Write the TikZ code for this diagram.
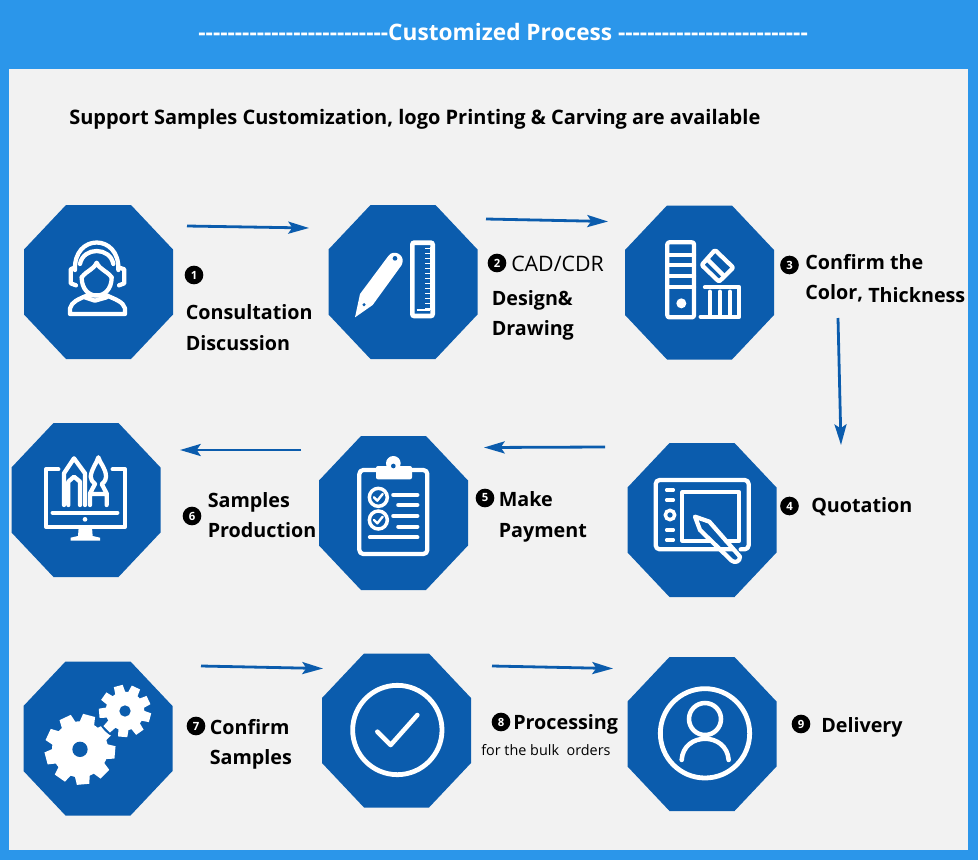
\documentclass[tikz,border=0pt]{standalone}
\usepackage{fontspec}
\usetikzlibrary{arrows.meta}
\newfontfamily\labfont{Open Sans}
\definecolor{frameblue}{HTML}{2B96EA}
\definecolor{panelgrey}{HTML}{F2F2F2}
\definecolor{octblue}{HTML}{0B5CAD}
\tikzset{
  octabox/.style={rectangle,minimum width=111.75pt,minimum height=116pt,inner sep=0pt,outer sep=0pt,draw=none},
  num/.style={circle,fill=black,text=white,minimum size=14pt,inner sep=0pt,font=\labfont\bfseries\fontsize{8.5}{8.5}\selectfont},
  lab/.style={anchor=base west,inner sep=0pt,text=black,font=\labfont\bfseries\fontsize{14.8}{14.8}\selectfont},
  reglab/.style={anchor=base west,inner sep=0pt,text=black,font=\labfont\fontsize{16}{16}\selectfont},
  flow/.style={draw=octblue,line width=2.1pt,-{Stealth[length=15.5pt,width=9pt,inset=3pt]}},
  zz/.style 2 args={shift={(#1,#2)},x=.25pt,y=-.25pt},
  ic/.style={draw=white,line width=3.2pt,line cap=round,line join=round},
}
\newcommand{\octagon}[3]{%
  \fill[octblue,shift={(#2,#3)}] (-74.5,-32.5) -- (-32.5,-77) -- (32.5,-77) -- (74.5,-32.5) -- (74.5,32.5) -- (32.5,77) -- (-32.5,77) -- (-74.5,32.5) -- cycle;
  \node[octabox] (#1) at (#2,#3) {};
}
\newcommand{\gearshape}[6]{% cx cy outer inner hole offset
  \fill[white] (#1,#2) circle (#4);
  \foreach \k in {0,40,...,320}{
    \fill[white,shift={(#1,#2)}] ({\k+#6-16}:{#4-2}) -- ({\k+#6-10}:#3) -- ({\k+#6+10}:#3) -- ({\k+#6+16}:{#4-2}) -- cycle;
  }
  \fill[octblue] (#1,#2) circle (#5);
}
\begin{document}
\begin{tikzpicture}[x=.75pt,y=-.75pt]
\useasboundingbox (0,0) rectangle (978,860);
\fill[frameblue] (0,0) rectangle (978,860);
\fill[panelgrey] (9,69) rectangle (968,850);

\node[anchor=base,inner sep=0pt,text=white,font=\labfont\bfseries\fontsize{17}{17}\selectfont] (head) at (503,40) {--------------------------Customized Process --------------------------};
\node[lab,font=\labfont\bfseries\fontsize{15}{15}\selectfont] (title) at (69,124) {Support Samples Customization, logo Printing \& Carving are available};

% octagons
\octagon{o1}{98.5}{282}
\octagon{o2}{403}{282}
\octagon{o3}{699.5}{282.5}
\octagon{o4}{702}{520}
\octagon{o5}{393.5}{513}
\octagon{o6}{86}{500}
\octagon{o7}{98}{738.5}
\octagon{o8}{396.5}{730.5}
\octagon{o9}{702}{734}

% arrows
\coordinate (a1s) at (187,226); \coordinate (a1e) at (309,228);
\coordinate (a2s) at (486,219); \coordinate (a2e) at (608,221.5);
\coordinate (a3s) at (838,318); \coordinate (a3e) at (841,445);
\coordinate (a4s) at (605,447); \coordinate (a4e) at (484,447.5);
\coordinate (a5s) at (301,450); \coordinate (a5e) at (180,450);
\coordinate (a6s) at (201,666); \coordinate (a6e) at (323,668.5);
\coordinate (a7s) at (492,666); \coordinate (a7e) at (613,668.5);
\draw[flow] (a1s) -- (a1e);
\draw[flow] (a2s) -- (a2e);
\draw[flow] (a3s) -- (a3e);
\draw[flow] (a4s) -- (a4e);
\draw[flow] (a5s) -- (a5e);
\draw[flow] (a6s) -- (a6e);
\draw[flow] (a7s) -- (a7e);

% numbers
\node[num] (n1) at (194,275) {1};
\node[num] (n2) at (497,263) {2};
\node[num] (n3) at (789.5,265) {3};
\node[num] (n4) at (789.5,506) {4};
\node[num] (n5) at (485,498) {5};
\node[num] (n6) at (192,516) {6};
\node[num] (n7) at (196,726) {7};
\node[num] (n8) at (501,722) {8};
\node[num] (n9) at (801,724) {9};

% labels
\node[lab] (t1a) at (185.5,319) {Consultation};
\node[lab] (t1b) at (185.5,350) {Discussion};
\node[reglab] (t2a) at (511,271) {CAD/CDR};
\node[lab] (t2b) at (491.5,305) {Design\&};
\node[lab] (t2c) at (491.5,335) {Drawing};
\node[lab] (t3a) at (805,269) {Confirm the};
\node[lab] (t3b) at (805,299) {Color,};
\node[lab] (t3c) at (868,302) {Thickness};
\node[lab] (t4) at (811,512) {Quotation};
\node[lab] (t5a) at (498.5,506) {Make};
\node[lab] (t5b) at (498.5,537) {Payment};
\node[lab] (t6a) at (207.5,507) {Samples};
\node[lab] (t6b) at (207.5,537) {Production};
\node[lab] (t7a) at (209.5,734) {Confirm};
\node[lab] (t7b) at (209.5,764) {Samples};
\node[lab] (t8a) at (513,729) {Processing};
\node[anchor=base west,inner sep=0pt,text=black,font=\labfont\fontsize{10.8}{10.8}\selectfont] (t8b) at (481,755) {for the bulk\ \ orders};
\node[lab] (t9) at (821,732) {Delivery};

% icon 1: headset
\begin{scope}[zz={0}{190}]
  \draw[ic] (225,240) .. controls (220,130) and (360,130) .. (355,240);
  \draw[ic] (240,222) .. controls (250,170) and (330,170) .. (340,222);
  \draw[ic] (245,262) .. controls (245,335) and (335,335) .. (335,262);
  \draw[ic] (245,262) .. controls (262,240) and (280,240) .. (290,218) .. controls (300,240) and (318,240) .. (335,262);
  \draw[ic] (225,232) -- (212,238) -- (212,280) -- (228,286);
  \draw[ic] (355,232) -- (373,238) -- (373,280) -- (357,286);
  \draw[ic] (210,372) -- (375,372) -- (375,355) .. controls (370,335) and (345,328) .. (320,316) -- (262,316) .. controls (235,328) and (215,335) .. (210,355) -- cycle;
  \draw[ic] (255,322) -- (285,332) -- (320,322);

% icon 2: pencil and ruler
  \fill[white] (1065,382) -- (1080,312) -- (1165,198) .. controls (1180,175) and (1220,195) .. (1205,225) -- (1118,345) -- cycle;
  \fill[octblue] (1185,205) circle (7);
  \fill[octblue] (1092,344) circle (5);
  \draw[white,line width=3.5pt,rounded corners=1.5pt] (1237,158) rectangle (1298,378);
  \foreach \tk in {175,190,...,355}{\draw[white,line width=.7pt] (1276,\tk) -- (1291,\tk);}
  \draw[white,line width=1pt] (1291,170) -- (1291,360);
  \draw[white,line width=1pt] (1250,360) -- (1291,360);
\end{scope}

% icon 3: swatches
\begin{scope}[zz={620}{200}]
  \draw[ic,rounded corners=1.5pt] (142,127) rectangle (222,352);
  \draw[ic] (142,165) -- (222,165) (142,195) -- (222,195) (142,228) -- (222,228) (142,262) -- (222,262);
  \fill[white] (184,310) circle (15);
  \draw[ic,rounded corners=1pt] (285,150) -- (340,203) -- (297,245) -- (245,195) -- cycle;
  \draw[ic] (262,178) -- (312,228);
  \draw[ic] (255,262) -- (358,262) -- (358,350) -- (242,350);
  \draw[ic] (270,275) -- (270,350) (300,275) -- (300,350) (330,275) -- (330,350);

% icon 4: tablet
  \draw[ic,rounded corners=3pt] (340,1048) -- (107,1048) -- (107,840) -- (386,840) -- (386,1048) -- (362,1048);
  \draw[ic] (270,1022) -- (187,1022) -- (187,877) -- (358,877) -- (358,1022) -- (318,1022);
  \draw[white,line width=2.6pt,line cap=round] (140,870) -- (160,870) (140,900) -- (160,900) (140,990) -- (160,990) (140,1020) -- (160,1020);
  \draw[white,line width=2.6pt] (150,945) circle (14);
  \draw[ic] (225,950) -- (268,965) -- (360,1070) .. controls (360,1085) and (345,1090) .. (335,1082) -- (240,990) -- cycle;
\end{scope}

% icons 5, 6
\begin{scope}[zz={0}{410}]
  \draw[ic,rounded corners=3pt] (1130,180) -- (1078,180) -- (1078,432) -- (1282,432) -- (1282,180) -- (1232,180);
  \fill[white,rounded corners=1.5pt] (1128,168) rectangle (1236,208);
  \fill[white] (1180,160) circle (22);
  \fill[octblue] (1180,168) circle (7);
  \draw[white,line width=2.6pt] (1135,262) circle (27) (1135,330) circle (27);
  \draw[white,line width=1.8pt,line cap=round,line join=round] (1122,262) -- (1132,272) -- (1148,252) (1122,330) -- (1132,340) -- (1148,320);
  \draw[ic] (1180,255) -- (1252,255) (1195,285) -- (1252,285) (1180,318) -- (1252,318) (1195,350) -- (1252,350) (1110,382) -- (1252,382);

  \draw[ic] (175,178) -- (138,178) -- (138,350) -- (375,350) -- (375,178) -- (338,178);
  \draw[ic] (158,308) -- (352,308);
  \fill[white] (255,328) circle (7);
  \fill[white] (236,352) -- (276,352) -- (278,378) -- (300,383) -- (300,392) -- (212,392) -- (212,383) -- (234,378) -- cycle;
  \draw[ic] (192,285) -- (192,190) -- (222,145) -- (255,190) -- (255,285);
  \draw[ic] (205,285) -- (205,215) -- (222,200) -- (240,215) -- (240,285);
  \draw[ic] (272,200) .. controls (275,175) and (290,160) .. (295,142) .. controls (300,160) and (318,175) .. (318,200) .. controls (318,215) and (305,222) .. (305,222) -- (320,250) -- (320,285) (285,222) .. controls (278,215) and (272,210) .. (272,200) (285,222) -- (270,250) -- (270,285) (270,252) -- (320,252);
\end{scope}

% icon 7: gears
\begin{scope}[zz={0}{650}]
  \gearshape{240}{298}{107}{84}{23}{5}
  \fill[octblue] (375,183) circle (85);
  \gearshape{375}{183}{79}{58}{17}{15}

% icon 8: check
  \draw[white,line width=3.6pt] (1192,240) circle (134);
  \draw[white,line width=3.4pt,line cap=round,line join=round] (1132,245) -- (1172,285) -- (1252,195);
\end{scope}

% icon 9: person
\begin{scope}[zz={470}{650}]
  \draw[white,line width=3.6pt] (705,250) circle (134);
  \draw[white,line width=3.4pt] (705,207) circle (48);
  \draw[white,line width=3.4pt,line cap=round] (635,330) .. controls (640,245) and (770,245) .. (776,330);
\end{scope}
\end{tikzpicture}
\end{document}
